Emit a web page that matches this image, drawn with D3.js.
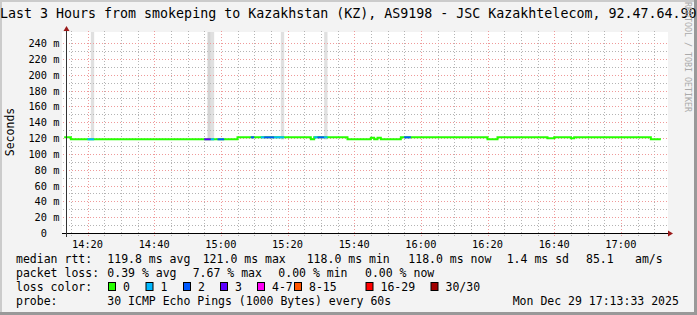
<!DOCTYPE html>
<html><head><meta charset="utf-8">
<script src="https://cdn.jsdelivr.net/npm/d3@7"></script>
<style>
html,body{margin:0;padding:0;background:#f3f3f3;}
svg{display:block;}
text{font-family:"DejaVu Sans Mono",monospace;}
</style></head><body>
<svg id="c" width="697" height="315"></svg>
<script>
// ---------- data ----------
const title = "Last 3 Hours from smokeping to Kazakhstan (KZ), AS9198 - JSC Kazakhtelecom, 92.47.64.90";
const startTime = "14:13:33";
const endTime = "17:13:33";
const yTicks = [0, 20, 40, 60, 80, 100, 120, 140, 160, 180, 200, 220, 240];
const yUnitLabel = "Seconds";

// median rtt segments (ms) and packet loss (of 30 pings)
const segStart = ["14:13","14:15","14:20","14:22","14:55","14:57","14:58","14:59","15:01","15:05","15:09","15:10","15:12","15:13","15:16","15:19","15:27","15:28","15:29","15:31","15:32","15:38","15:45","15:46","15:47","15:48","15:54","15:55","15:57","16:20","16:23","16:38","16:40","16:45","16:46","17:09"];
const segEnd   = ["14:15","14:20","14:22","14:55","14:57","14:58","14:59","15:01","15:05","15:09","15:10","15:12","15:13","15:16","15:19","15:27","15:28","15:29","15:31","15:32","15:38","15:45","15:46","15:47","15:48","15:54","15:55","15:57","16:20","16:23","16:38","16:40","16:45","16:46","17:09","17:12"];
const segRtt   = [120.9,118.4,118.4,118.4,118.4,118.4,118.4,118.4,118.4,120.9,120.9,120.9,120.9,120.9,120.9,120.9,118.4,120.9,120.9,120.9,120.9,118.4,120.3,118.4,120.3,118.4,120.9,120.9,120.9,118.4,120.9,119.6,120.9,119.6,120.9,118.4];
const segLoss  = [0,0,1,0,3,1,0,2,0,0,2,0,1,2,1,0,0,1,2,1,0,0,0,0,0,0,0,2,0,0,0,0,0,0,0,0];

// smoke (individual ping spread) spikes reaching off the top of the chart
const smokeStart = ["14:21","14:56","14:57","15:18","15:31"];
const smokeEnd   = ["14:22","14:57","14:58","15:19","15:32"];
const smokeTop   = [300, 300, 300, 300, 300];
const smokePings = [1, 2, 1, 1, 1];

const lossLabels = ["0","1","2","3","4-7","8-15","16-29","30/30"];
const lossColors = ["#26ff00","#00b8ff","#0059ff","#5e00ff","#ff00f5","#ff5500","#ff0000","#a10000"];

const statLabel = ["median rtt:","packet loss:","loss color:","probe:"];
const rttStats  = ["119.8 ms avg","121.0 ms max","118.0 ms min","118.0 ms now","1.4 ms sd","85.1","am/s"];
const lossStats = ["0.39 % avg","7.67 % max","0.00 % min","0.00 % now"];
const probeText = "30 ICMP Echo Pings (1000 Bytes) every 60s";
const stampText = "Mon Dec 29 17:13:33 2025";
const creditText = "RRDTOOL / TOBI OETIKER";

// ---------- drawing ----------
const W = 697, H = 315;
const svg = d3.select("#c");
const pHM = d3.utcParse("%H:%M"), pHMS = d3.utcParse("%H:%M:%S");

// frame
svg.append("rect").attr("x",0).attr("y",0).attr("width",W).attr("height",H).attr("fill","#f3f3f3");
svg.append("rect").attr("x",0).attr("y",0).attr("width",W).attr("height",2).attr("fill","#cbcbcb");
svg.append("rect").attr("x",0).attr("y",0).attr("width",2).attr("height",H).attr("fill","#cbcbcb");
svg.append("rect").attr("x",W-3).attr("y",0).attr("width",3).attr("height",H).attr("fill","#999999");
svg.append("rect").attr("x",0).attr("y",H-3).attr("width",W).attr("height",3).attr("fill","#999999");

const x = d3.scaleUtc().domain([pHMS(startTime), pHMS(endTime)]).range([66, 666]);
const y = d3.scaleLinear().domain([0, 254]).range([233, 32]);

// canvas
svg.append("rect").attr("x",62).attr("y",32).attr("width",606).attr("height",201).attr("fill","#ffffff");

const defs = svg.append("defs");
defs.append("clipPath").attr("id","clip").append("rect").attr("x",66).attr("y",32).attr("width",600).attr("height",201);

// smoke
const smokeShade = d3.scaleOrdinal().domain([1,2]).range(["#e0e0e0","#d4d4d4"]);
svg.append("g").attr("clip-path","url(#clip)").selectAll("rect").data(d3.range(smokeStart.length)).join("rect")
  .attr("x",i=>x(pHM(smokeStart[i])))
  .attr("width",i=>x(pHM(smokeEnd[i]))-x(pHM(smokeStart[i])))
  .attr("y",i=>y(smokeTop[i]))
  .attr("height",i=>y(118)-y(smokeTop[i]))
  .attr("fill",i=>smokeShade(smokePings[i]));

// grid
const g = svg.append("g");
const minorX = d3.utcMinute.every(5).range(x.domain()[0], x.domain()[1]).filter(t=>t.getUTCMinutes()%20!==0);
const majorX = d3.utcMinute.every(20).range(x.domain()[0], x.domain()[1]);
const gridGray = "#b4b4b4", gridRed = "#ef9a9a";
g.selectAll(".vmin").data(minorX).join("line")
  .attr("x1",d=>Math.round(x(d))+0.5).attr("x2",d=>Math.round(x(d))+0.5).attr("y1",31).attr("y2",236)
  .attr("stroke",gridGray).attr("stroke-dasharray","1,2");
const minorY = d3.range(10, 250, 20);
g.selectAll(".hmin").data(minorY).join("line")
  .attr("x1",63).attr("x2",668).attr("y1",d=>Math.round(y(d))+0.5).attr("y2",d=>Math.round(y(d))+0.5)
  .attr("stroke",gridGray).attr("stroke-dasharray","1,2");
g.selectAll(".vmaj").data(majorX).join("line")
  .attr("x1",d=>Math.round(x(d))+0.5).attr("x2",d=>Math.round(x(d))+0.5).attr("y1",31).attr("y2",236)
  .attr("stroke",gridRed).attr("stroke-dasharray","1,2");
g.selectAll(".hmaj").data(yTicks.filter(d=>d>0)).join("line")
  .attr("x1",63).attr("x2",668).attr("y1",d=>Math.round(y(d))+0.5).attr("y2",d=>Math.round(y(d))+0.5)
  .attr("stroke",gridRed).attr("stroke-dasharray","1,2");

// median line (step), then loss colours on top
const pts = [];
segStart.forEach((s,i)=>{ pts.push([pHM(s), segRtt[i]]); pts.push([pHM(segEnd[i]), segRtt[i]]); });
const line = d3.line().x(d=>x(d[0])).y(d=>y(d[1]));
svg.append("path").attr("d", line(pts)).attr("fill","none").attr("stroke",lossColors[0]).attr("stroke-width",2);
const lossIdx = l => l<=3 ? l : l<=7 ? 4 : l<=15 ? 5 : l<=29 ? 6 : 7;
const lossSegs = d3.range(segStart.length).filter(i=>segLoss[i]>0);
svg.append("g").selectAll("path").data(lossSegs).join("path")
  .attr("d",i=>line([[pHM(segStart[i]), segRtt[i]],[pHM(segEnd[i]), segRtt[i]]]))
  .attr("fill","none").attr("stroke",i=>lossColors[lossIdx(segLoss[i])]).attr("stroke-width",2);

// axes
svg.append("line").attr("x1",62).attr("x2",669).attr("y1",233.5).attr("y2",233.5).attr("stroke","#000");
svg.append("line").attr("x1",66.5).attr("x2",66.5).attr("y1",30).attr("y2",237).attr("stroke","#333");
svg.append("path").attr("d","M668,230.5L673,233.5L668,236.5Z").attr("fill","#9a1a1a");
svg.append("path").attr("d","M63.5,31L66.5,26L69.5,31Z").attr("fill","#9a1a1a");

// tick labels
const fAx = 10.3;
svg.append("g").selectAll("text").data(majorX).join("text")
  .attr("x",d=>x(d)).attr("y",247.5).attr("text-anchor","middle").attr("font-size",fAx).attr("fill","#000")
  .text(d=>d3.utcFormat("%H:%M")(d));
const yl = svg.append("g");
yl.selectAll(".n").data(yTicks).join("text")
  .attr("x",47).attr("y",d=>y(d)+4).attr("text-anchor","end").attr("font-size",fAx).text(d=>d);
yl.selectAll(".u").data(yTicks.filter(d=>d>0)).join("text")
  .attr("x",53.3).attr("y",d=>y(d)+4).attr("font-size",fAx).text("m");

svg.append("text").attr("transform","translate(14,132) rotate(-90)").attr("text-anchor","middle")
  .attr("font-size",11.5).text(yUnitLabel);

// title
svg.append("text").attr("x",0).attr("y",18).attr("font-size",13.3).text(title);

// credit
svg.append("text").attr("transform","translate(685,2) rotate(90)").attr("font-size",8.3).attr("fill","#aaaaaa").text(creditText);

// legend
const fL = 11.5;
const L = svg.append("g").attr("font-size",fL);
const base = [263, 277, 291, 305];
statLabel.forEach((t,i)=>L.append("text").attr("x",16).attr("y",base[i]).text(t));
const rttX = [107.3, 202.7, 306.7, 408.3, 506.7, 586, 635];
rttStats.forEach((t,i)=>L.append("text").attr("x",rttX[i]).attr("y",base[0]).text(t));
const lossX = [107.3, 192.7, 278.3, 365];
lossStats.forEach((t,i)=>L.append("text").attr("x",lossX[i]).attr("y",base[1]).text(t));
const boxX = [108, 145.5, 183, 220, 257, 294, 365.5, 430.5];
lossLabels.forEach((t,i)=>{
  L.append("rect").attr("x",boxX[i]+0.5).attr("y",282.5).attr("width",7).attr("height",8)
    .attr("fill",lossColors[i]).attr("stroke","#000");
  L.append("text").attr("x",boxX[i]+15).attr("y",base[2]).text(t);
});
L.append("text").attr("x",107.3).attr("y",base[3]).text(probeText);
L.append("text").attr("x",512.7).attr("y",base[3]).text(stampText);
</script>
</body></html>
